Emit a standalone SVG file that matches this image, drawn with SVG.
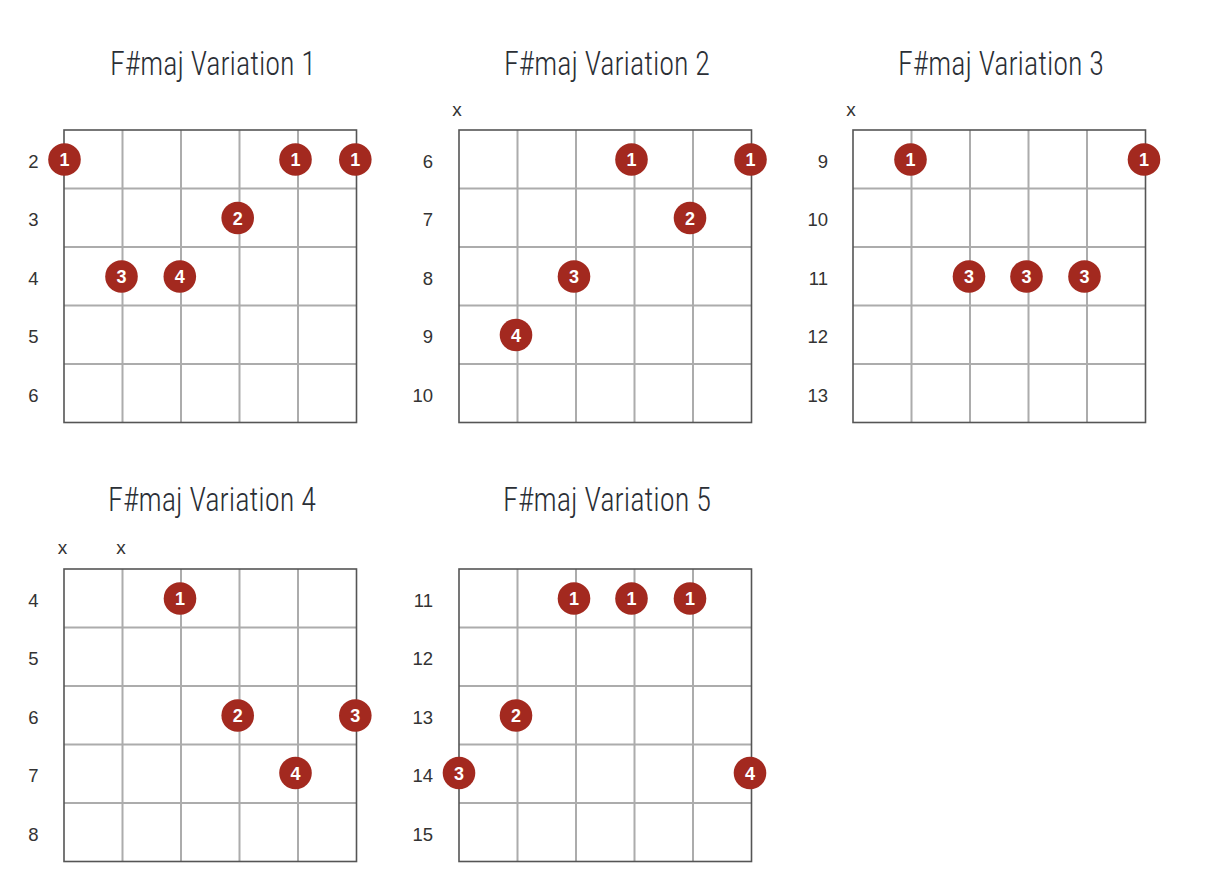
<svg xmlns="http://www.w3.org/2000/svg" width="1206" height="874" viewBox="0 0 1206 874">
<style>
.bg{fill:#ffffff}
.title{font-family:"Roboto Condensed","Liberation Sans Narrow","DejaVu Sans Condensed",sans-serif;font-stretch:condensed;font-weight:300;font-size:34px;fill:#2b2f36;text-anchor:middle}
.fret{font-family:"Liberation Sans",Arial,sans-serif;font-size:18.5px;fill:#333333;text-anchor:end}
.mute{font-family:"Liberation Sans",Arial,sans-serif;font-size:19px;fill:#333333;text-anchor:middle}
.inner{stroke:#acacac;stroke-width:2;fill:none}
.border{stroke:#555555;stroke-width:1.6;fill:none}
.dot{fill:#a3291f}
.num{font-family:"Liberation Sans",Arial,sans-serif;font-size:18px;font-weight:bold;fill:#ffffff;text-anchor:middle}
</style>
<defs>
<g id="grid">
<path class="inner" d="M58.5 0V292.5M117 0V292.5M175.5 0V292.5M234 0V292.5M0 58.5H292.5M0 117H292.5M0 175.5H292.5M0 234H292.5"/>
<rect class="border" x="0" y="0" width="292.5" height="292.5"/>
</g>
</defs>
<rect class="bg" x="0" y="0" width="1206" height="874"/>

<g id="variation1">
<text class="title" x="213" y="75" textLength="206" lengthAdjust="spacingAndGlyphs">F#maj Variation 1</text>
<use href="#grid" x="64" y="130"/>
<text class="fret" x="38.5" y="167.5">2</text>
<text class="fret" x="38.5" y="226">3</text>
<text class="fret" x="38.5" y="284.5">4</text>
<text class="fret" x="38.5" y="343">5</text>
<text class="fret" x="38.5" y="401.5">6</text>
<circle class="dot" cx="64.5" cy="159.5" r="16.3"/><text class="num" x="64.5" y="166">1</text>
<circle class="dot" cx="295.5" cy="159.5" r="16.3"/><text class="num" x="295.5" y="166">1</text>
<circle class="dot" cx="355.3" cy="159.5" r="16.3"/><text class="num" x="355.3" y="166">1</text>
<circle class="dot" cx="237.7" cy="218" r="16.3"/><text class="num" x="237.7" y="224.5">2</text>
<circle class="dot" cx="121.5" cy="276.5" r="16.3"/><text class="num" x="121.5" y="283">3</text>
<circle class="dot" cx="179.8" cy="276.5" r="16.3"/><text class="num" x="179.8" y="283">4</text>
</g>

<g id="variation2">
<text class="title" x="607" y="75" textLength="206" lengthAdjust="spacingAndGlyphs">F#maj Variation 2</text>
<text class="mute" x="457" y="116">x</text>
<use href="#grid" x="459" y="130"/>
<text class="fret" x="433" y="167.5">6</text>
<text class="fret" x="433" y="226">7</text>
<text class="fret" x="433" y="284.5">8</text>
<text class="fret" x="433" y="343">9</text>
<text class="fret" x="433" y="401.5">10</text>
<circle class="dot" cx="631.5" cy="159.5" r="16.3"/><text class="num" x="631.5" y="166">1</text>
<circle class="dot" cx="750.5" cy="159.5" r="16.3"/><text class="num" x="750.5" y="166">1</text>
<circle class="dot" cx="690" cy="218" r="16.3"/><text class="num" x="690" y="224.5">2</text>
<circle class="dot" cx="574" cy="276.5" r="16.3"/><text class="num" x="574" y="283">3</text>
<circle class="dot" cx="516" cy="335" r="16.3"/><text class="num" x="516" y="341.5">4</text>
</g>

<g id="variation3">
<text class="title" x="1001" y="75" textLength="206" lengthAdjust="spacingAndGlyphs">F#maj Variation 3</text>
<text class="mute" x="851" y="116">x</text>
<use href="#grid" x="853" y="130"/>
<text class="fret" x="828" y="167.5">9</text>
<text class="fret" x="828" y="226">10</text>
<text class="fret" x="828" y="284.5">11</text>
<text class="fret" x="828" y="343">12</text>
<text class="fret" x="828" y="401.5">13</text>
<circle class="dot" cx="910.5" cy="159.5" r="16.3"/><text class="num" x="910.5" y="166">1</text>
<circle class="dot" cx="1144" cy="159.5" r="16.3"/><text class="num" x="1144" y="166">1</text>
<circle class="dot" cx="969" cy="276.5" r="16.3"/><text class="num" x="969" y="283">3</text>
<circle class="dot" cx="1026.5" cy="276.5" r="16.3"/><text class="num" x="1026.5" y="283">3</text>
<circle class="dot" cx="1084.5" cy="276.5" r="16.3"/><text class="num" x="1084.5" y="283">3</text>
</g>

<g id="variation4">
<text class="title" x="212" y="511" textLength="208" lengthAdjust="spacingAndGlyphs">F#maj Variation 4</text>
<text class="mute" x="62.5" y="554">x</text>
<text class="mute" x="121" y="554">x</text>
<use href="#grid" x="64" y="569"/>
<text class="fret" x="38.5" y="606.5">4</text>
<text class="fret" x="38.5" y="665">5</text>
<text class="fret" x="38.5" y="723.5">6</text>
<text class="fret" x="38.5" y="782">7</text>
<text class="fret" x="38.5" y="840.5">8</text>
<circle class="dot" cx="180" cy="598.5" r="16.3"/><text class="num" x="180" y="605">1</text>
<circle class="dot" cx="237.7" cy="715.5" r="16.3"/><text class="num" x="237.7" y="722">2</text>
<circle class="dot" cx="355.3" cy="715.5" r="16.3"/><text class="num" x="355.3" y="722">3</text>
<circle class="dot" cx="295.5" cy="773" r="16.3"/><text class="num" x="295.5" y="779.5">4</text>
</g>

<g id="variation5">
<text class="title" x="607" y="511" textLength="208" lengthAdjust="spacingAndGlyphs">F#maj Variation 5</text>
<use href="#grid" x="459" y="569"/>
<text class="fret" x="433" y="606.5">11</text>
<text class="fret" x="433" y="665">12</text>
<text class="fret" x="433" y="723.5">13</text>
<text class="fret" x="433" y="782">14</text>
<text class="fret" x="433" y="840.5">15</text>
<circle class="dot" cx="574" cy="598.5" r="16.3"/><text class="num" x="574" y="605">1</text>
<circle class="dot" cx="631.5" cy="598.5" r="16.3"/><text class="num" x="631.5" y="605">1</text>
<circle class="dot" cx="690" cy="598.5" r="16.3"/><text class="num" x="690" y="605">1</text>
<circle class="dot" cx="516" cy="715.5" r="16.3"/><text class="num" x="516" y="722">2</text>
<circle class="dot" cx="459" cy="773" r="16.3"/><text class="num" x="459" y="779.5">3</text>
<circle class="dot" cx="750" cy="773" r="16.3"/><text class="num" x="750" y="779.5">4</text>
</g>
</svg>
